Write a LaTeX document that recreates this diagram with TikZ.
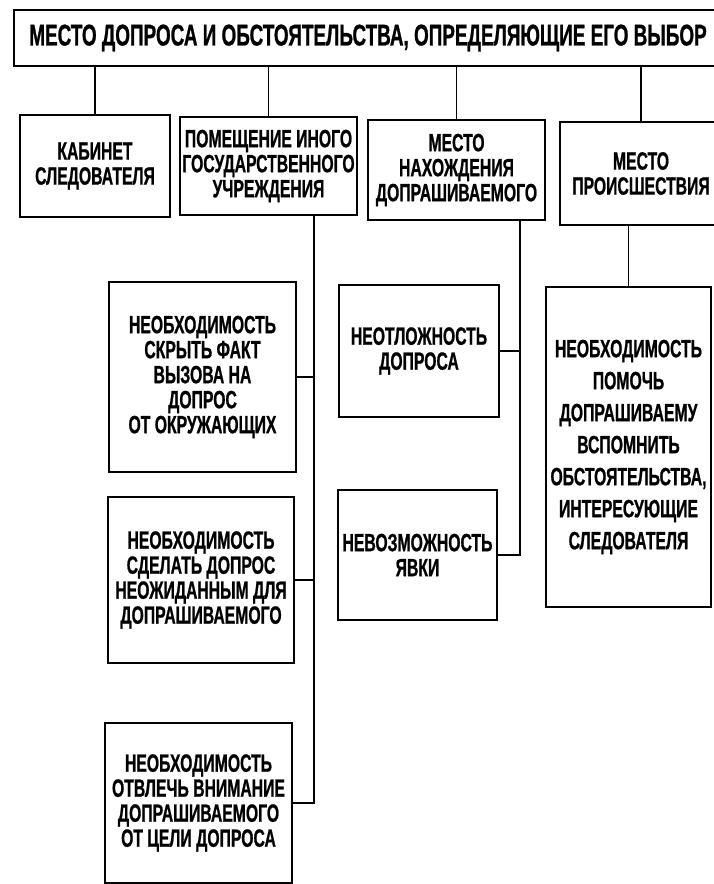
\documentclass[tikz,border=0pt]{standalone}
\usepackage{fontspec}
\setmainfont{Liberation Sans}[FakeStretch=0.63, BoldFeatures={FakeBold=0.8}]

\begin{document}
\begin{tikzpicture}[x=1pt, y=-1pt,
    box/.style={draw, line width=2.6pt, align=center, inner sep=0pt,
      font=\bfseries\fontsize{25}{25}\selectfont},
    link/.style={line width=1.6pt}]
   \fill[white] (0,0) rectangle (713,884);
   \useasboundingbox (0,0) rectangle (713,884);

   \node[box, minimum width=708pt, minimum height=56pt,
     font=\bfseries\fontsize{30}{30}\selectfont] (top) at (368,38)
     {МЕСТО ДОПРОСА И ОБСТОЯТЕЛЬСТВА, ОПРЕДЕЛЯЮЩИЕ ЕГО ВЫБОР};

   \node[box, minimum width=150pt, minimum height=102pt] (cab) at (95,166) {КАБИНЕТ\\СЛЕДОВАТЕЛЯ};
   \node[box, minimum width=177pt, minimum height=98pt] (inst) at (268.5,166) {ПОМЕЩЕНИЕ ИНОГО\\ГОСУДАРСТВЕННОГО\\УЧРЕЖДЕНИЯ};
   \node[box, minimum width=177pt, minimum height=100pt] (home) at (456.5,170) {МЕСТО\\НАХОЖДЕНИЯ\\ДОПРАШИВАЕМОГО};
   \node[box, minimum width=162pt, minimum height=103pt] (scene) at (641,173.5) {МЕСТО\\ПРОИСШЕСТВИЯ};

   \node[box, minimum width=187pt, minimum height=190pt] (hide) at (202.5,377) {НЕОБХОДИМОСТЬ\\СКРЫТЬ ФАКТ\\ВЫЗОВА НА\\ДОПРОС\\ОТ ОКРУЖАЮЩИХ};
   \node[box, minimum width=186pt, minimum height=166pt] (surp) at (201,580) {НЕОБХОДИМОСТЬ\\СДЕЛАТЬ ДОПРОС\\НЕОЖИДАННЫМ ДЛЯ\\ДОПРАШИВАЕМОГО};
   \node[box, minimum width=187pt, minimum height=160pt] (dist) at (198.5,803) {НЕОБХОДИМОСТЬ\\ОТВЛЕЧЬ ВНИМАНИЕ\\ДОПРАШИВАЕМОГО\\ОТ ЦЕЛИ ДОПРОСА};

   \node[box, minimum width=160pt, minimum height=132pt] (urg) at (419,351) {НЕОТЛОЖНОСТЬ\\ДОПРОСА};
   \node[box, minimum width=159pt, minimum height=130pt] (noshow) at (417.5,555) {НЕВОЗМОЖНОСТЬ\\ЯВКИ};

   \node[box, minimum width=165pt, minimum height=320pt,
     font=\bfseries\fontsize{25}{32}\selectfont] (recall) at (628.5,447)
     {НЕОБХОДИМОСТЬ\\ПОМОЧЬ\\ДОПРАШИВАЕМУ\\ВСПОМНИТЬ\\ОБСТОЯТЕЛЬСТВА,\\ИНТЕРЕСУЮЩИЕ\\СЛЕДОВАТЕЛЯ};

   \foreach \n in {cab, inst, home, scene}
     \draw[link] (\n.north) -- (\n.north |- top.south);

   \coordinate (instfoot) at ([xshift=45.5pt]inst.south);
   \coordinate (homefoot) at ([xshift=63.5pt]home.south);

   \draw[link] (instfoot) |- (dist.east);
   \draw[link] (hide.east) -- (hide.east -| instfoot);
   \draw[link] (surp.east) -- (surp.east -| instfoot);

   \draw[link] (homefoot) |- (noshow.east);
   \draw[link] (urg.east) -- (urg.east -| homefoot);

   \draw[link] (recall.north) -- (recall.north |- scene.south);
\end{tikzpicture}
\end{document}
